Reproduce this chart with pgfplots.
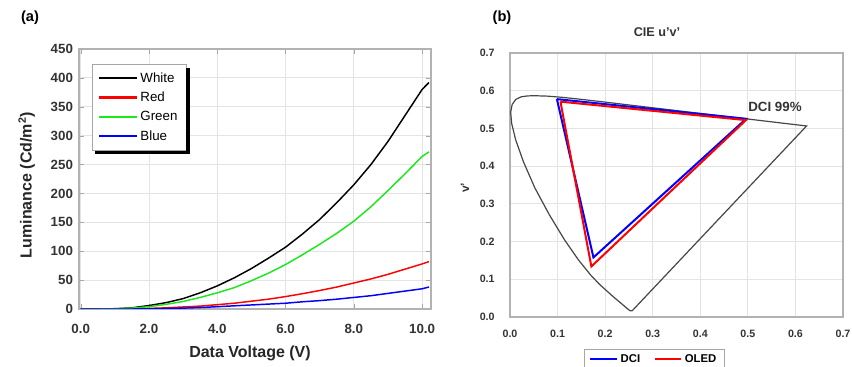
\documentclass[border=0pt]{standalone}
\usepackage{pgfplots}
\pgfplotsset{compat=1.18}
\usepackage{fontspec}
\setmainfont{Liberation Sans}
\definecolor{lgreen}{RGB}{30,230,30}
\definecolor{locus}{RGB}{70,70,70}

\pgfplotstableread{
v white green red blue
0.0 0 0 0 0
0.5 0 0 0 0
1.0 0.5 0.3 0 0
1.5 2 1.5 0.3 0
2.0 6 4 1 0.3
2.5 11 8 2 0.8
3.0 18 13 3.5 1.5
3.5 28 20 5 2.5
4.0 40 28 7.5 4
4.5 54 37 10 5.5
5.0 70 49 13.5 7
5.5 88 62 17 8.5
6.0 107 77 21.5 10
6.5 130 94 26.5 12.5
7.0 155 112 32 14.5
7.5 184 131 38 17
8.0 215 152 45 20
8.5 250 177 52 23
9.0 290 205 60 27
9.5 335 234 69 31
10.0 380 264 78 35
10.2 392 272 82 38
}\lumtable

\pgfplotstableread{
u v
0.2568 0.0165
0.2522 0.0169
0.2461 0.0226
0.2347 0.0350
0.2160 0.0549
0.1877 0.0871
0.1690 0.1120
0.1441 0.1510
0.1147 0.2044
0.0828 0.2708
0.0521 0.3427
0.0282 0.4117
0.0119 0.4698
0.0035 0.5131
0.0014 0.5432
0.0046 0.5638
0.0123 0.5770
0.0231 0.5837
0.0360 0.5861
0.0501 0.5868
0.0792 0.5856
0.1127 0.5821
0.1531 0.5766
0.2026 0.5694
0.2623 0.5604
0.3315 0.5501
0.4035 0.5393
0.4692 0.5296
0.5203 0.5219
0.5830 0.5125
0.6234 0.5065
0.2568 0.0165
}\locustable

\begin{document}
\begin{tikzpicture}
\useasboundingbox (0,0) rectangle (639pt,275.25pt);

% ---------- (a) ----------
\begin{axis}[
  at={(59.25pt,43.5pt)}, anchor=south west,
  scale only axis, width=264pt, height=195pt,
  xmin=-0.05, xmax=10.26, ymin=0, ymax=450,
  xtick={0,2,4,6,8,10}, ytick={0,50,...,450},
  grid=major, major grid style={gray!22, line width=0.6pt},
  axis line style={gray!60, line width=0.8pt},
  tick align=inside, major tick length=4pt, tick style={gray!70},
  /pgf/number format/assume math mode=true,
  ticklabel style={font=\fontsize{10}{12}\selectfont\bfseries, text=black!80},
  xticklabel style={/pgf/number format/.cd, fixed, fixed zerofill, precision=1, /tikz/.cd, yshift=-8pt},
  yticklabel style={/pgf/number format/.cd, fixed, precision=0, /tikz/.cd, xshift=-1pt},
  legend style={name=legA, at={(0.037,0.942)}, anchor=north west, draw=gray!70, fill=white,
    font=\fontsize{10}{12}\selectfont, row sep=2pt, inner xsep=4.5pt, inner ysep=4pt},
  legend cell align=left,
  legend image code/.code={\draw[#1, line width=1.6pt] (0pt,0.3pt) -- (28pt,0.3pt);},
]
\addplot[black, line width=1.1pt] table[x=v, y=white] {\lumtable};
\addlegendentry{White}
\addplot[red, line width=1.1pt] table[x=v, y=red] {\lumtable};
\addlegendentry{Red}
\addplot[color=lgreen, line width=1.1pt] table[x=v, y=green] {\lumtable};
\addlegendentry{Green}
\addplot[blue, line width=1.1pt] table[x=v, y=blue] {\lumtable};
\addlegendentry{Blue}
\end{axis}
% legend drop shadow (right and bottom strips)
\fill[black] ([yshift=-2.6pt]legA.north east) rectangle ([xshift=2.6pt,yshift=-2.6pt]legA.south east);
\fill[black] ([xshift=2.6pt]legA.south west) rectangle ([xshift=2.6pt,yshift=-2.6pt]legA.south east);

% ---------- (b) ----------
\begin{axis}[
  at={(382.5pt,37.5pt)}, anchor=south west,
  scale only axis, width=249.75pt, height=198pt,
  xmin=0, xmax=0.7, ymin=0, ymax=0.7,
  xtick={0,0.1,...,0.71}, ytick={0,0.1,...,0.71},
  grid=major, major grid style={gray!22, line width=0.6pt},
  axis line style={gray!60, line width=0.8pt},
  major tick length=0pt,
  /pgf/number format/assume math mode=true,
  ticklabel style={font=\fontsize{8}{10}\selectfont\bfseries, text=black!80},
  xticklabel style={/pgf/number format/.cd, fixed, fixed zerofill, precision=1, /tikz/.cd, yshift=-6pt},
  yticklabel style={/pgf/number format/.cd, fixed, fixed zerofill, precision=1, /tikz/.cd, xshift=-8pt},
  legend style={at={(0.433,-0.121)}, anchor=north, draw=gray!70, fill=white,
    font=\fontsize{8.5}{10}\selectfont\bfseries, legend columns=2,
    /tikz/every even column/.append style={column sep=8pt}, inner xsep=4pt, inner ysep=2pt},
  legend image code/.code={\draw[#1] (0pt,0pt) -- (20pt,0pt);},
]
\addplot[locus, line width=0.9pt, forget plot] table[x=u, y=v] {\locustable};
\addplot[blue, line width=1.5pt] coordinates {(0.0986,0.5777) (0.4964,0.5256) (0.1754,0.1579) (0.0986,0.5777)};
\addlegendentry{DCI}
\addplot[red, line width=1.5pt] coordinates {(0.106,0.571) (0.496,0.522) (0.171,0.134) (0.106,0.571)};
\addlegendentry{OLED}
\node[font=\fontsize{10}{12}\selectfont\bfseries, text=black!80] at (axis cs:0.557,0.558) {DCI 99\%};
\end{axis}

% ---------- labels ----------
\node[font=\fontsize{11}{13}\selectfont\bfseries] at (22.5pt,261.75pt) {(a)};
\node[font=\fontsize{11}{13}\selectfont\bfseries] at (376.5pt,261.75pt) {(b)};
\node[font=\fontsize{9.5}{11}\selectfont\bfseries, text=black!80] at (492.75pt,251.25pt) {CIE u'v'};
\node[font=\fontsize{9}{11}\selectfont\bfseries, rotate=90, text=black!80] at (348.75pt,134.25pt) {v'};
\node[font=\fontsize{12}{14}\selectfont\bfseries, rotate=90, text=black!85] at (20pt,136.5pt) {Luminance (Cd/m\textsuperscript{2})};
\node[font=\fontsize{12}{14}\selectfont\bfseries, text=black!85] at (187.5pt,10.5pt) {Data Voltage (V)};
\end{tikzpicture}
\end{document}
